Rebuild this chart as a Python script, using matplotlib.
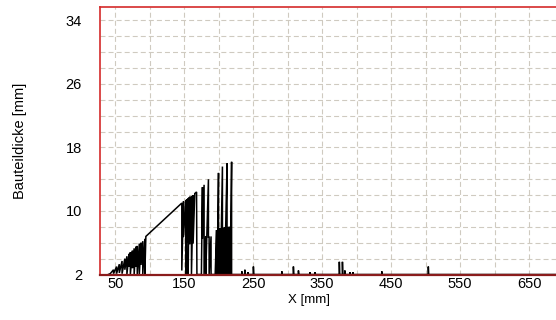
import numpy as np
import matplotlib.pyplot as plt

plt.rcParams['font.family'] = ['Liberation Sans', 'DejaVu Sans']
plt.rcParams['lines.scale_dashes'] = False

# Dickenprofil: Eckpunkte der Kurve (X in mm, Dicke in mm)
profil_x = [40, 42.8,
            47.6, 47.6, 52, 52, 56, 56, 60, 60, 64, 64, 67, 67, 70, 70,
            72, 72, 75, 75, 77.5, 77.5, 80, 80, 82, 82, 85, 85, 87.5, 87.5,
            90, 90, 93, 93, 94.5,
            146.6, 146.6, 149, 149, 152.4, 152.4, 154, 154, 155.8, 155.8,
            157, 157, 158.2, 158.2, 160.6, 160.6, 163, 163, 165.4, 168, 168.5,
            175, 176.5, 176.5, 178.9, 178.9, 181.3, 181.3, 185.2, 185.2,
            186.2, 186.2, 189, 189, 195,
            197.0, 197.0, 198.0, 198.0, 199.8, 199.8, 200.8, 200.8, 201.8,
            201.8, 202.8, 202.8, 204.0, 205.5, 205.5, 206.6, 206.6, 207.8,
            207.8, 209.0, 209.0, 210.2, 212.2, 212.2, 213.3, 213.3, 214.4,
            214.4, 215.6, 215.6, 216.8, 216.8, 218.8, 218.8]
profil_y = [2.0, 2.1,
            2.6, 2.1, 3.0, 2.1, 3.3, 2.2, 3.7, 2.1, 4.0, 2.6, 4.3, 2.0, 4.6, 3.0,
            4.8, 2.0, 5.0, 2.8, 5.3, 2.0, 5.5, 3.0, 5.6, 2.0, 5.9, 2.0, 6.0, 3.2,
            6.2, 2.0, 6.5, 2.0, 6.8,
            11.0, 2.5, 11.2, 6.7, 11.4, 2.0, 11.5, 6.0, 11.6, 2.0,
            11.7, 6.0, 11.8, 5.8, 11.9, 2.0, 12.0, 5.9, 12.2, 12.4, 2.0,
            2.0, 13.0, 6.5, 13.3, 2.0, 6.85, 2.0, 14.0, 6.7,
            6.7, 2.0, 6.8, 2.0, 2.0,
            7.6, 2.0, 7.6, 2.0, 14.8, 7.7, 7.7, 2.0, 7.8,
            2.0, 7.8, 2.0, 7.8, 15.6, 2.0, 7.8, 2.0, 7.9,
            2.0, 7.9, 2.0, 7.9, 16.0, 2.0, 7.9, 2.0, 8.0,
            2.0, 8.0, 2.0, 8.0, 2.0, 16.2, 2.0]

# kleine Ausschläge hinter dem Hauptbereich
spitzen_x = [233.6, 238, 242.8, 250.4, 291.6, 308.4, 315.7, 332.6, 339.9,
             375, 379.5, 383, 390.6, 394.5, 436.5, 504]
spitzen_y = [2.4, 2.6, 2.3, 3.0, 2.4, 3.0, 2.5, 2.3, 2.3,
             3.6, 3.6, 2.5, 2.3, 2.3, 2.4, 3.0]

x_ticks = [50, 150, 250, 350, 450, 550, 650]
y_ticks = [2, 10, 18, 26, 34]

xs = list(profil_x)
ys = list(profil_y)
for sx, sy in zip(spitzen_x, spitzen_y):
    xs += [sx, sx, sx + 0.4]
    ys += [2.0, sy, 2.0]
xs.append(700)
ys.append(2.0)

fig = plt.figure(figsize=(5.56, 3.2), dpi=100)
ax = fig.add_axes([100 / 556, 45.5 / 320, 463.5 / 556, 267.5 / 320])

ax.plot(xs, ys, color='black', lw=1.1, solid_joinstyle='miter')

ax.set_xlim(28, 700)
ax.set_ylim(2, 35.7)
ax.set_xticks(x_ticks)
ax.set_xticks(np.arange(100, 701, 100), minor=True)
ax.set_yticks(y_ticks)
ax.set_yticks(np.arange(4, 35, 2), minor=True)
ax.grid(True, which='both', color='#cfcac0', lw=0.8, linestyle=(0, (3.6, 2.2)))
ax.set_axisbelow(True)

ax.tick_params(which='both', length=0, labelsize=10.5)
ax.tick_params(axis='x', pad=2)
ax.tick_params(axis='y', pad=13)

for s in ['left', 'top']:
    ax.spines[s].set_color('#d42a2a')
    ax.spines[s].set_linewidth(1.2)
ax.spines['bottom'].set_color('#8a1c1c')
ax.spines['bottom'].set_linewidth(1.6)
ax.spines['right'].set_visible(False)

ax.set_xlabel('X [mm]', fontsize=9.5)
ax.xaxis.set_label_coords(0.45, -0.072)
ax.set_ylabel('Bauteildicke [mm]', fontsize=10.5)
ax.yaxis.set_label_coords(-0.158, 0.5)

fig.savefig('out.png', dpi=100)
